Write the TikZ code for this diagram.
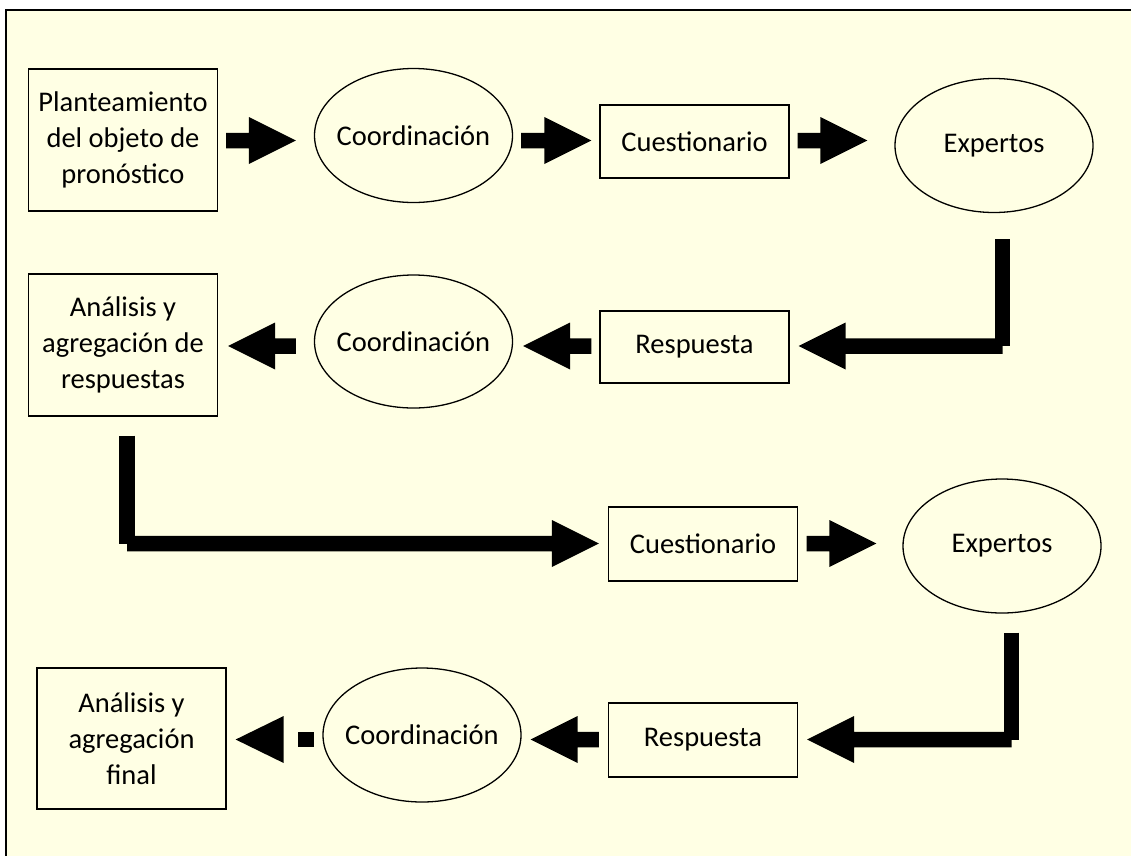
\documentclass[tikz,border=0pt]{standalone}
\usepackage{fontspec}
\setmainfont{Carlito}
\usetikzlibrary{shapes.geometric,calc}
\definecolor{paper}{RGB}{255,255,228}
\begin{document}
\begin{tikzpicture}[x=1pt,y=-1pt,
  lbl/.style={font=\fontsize{28.5}{36}\selectfont,text=black},
  box/.style={lbl,rectangle,draw=black,line width=1.3pt,inner sep=0pt,align=center,minimum width=189pt},
  oval/.style={lbl,ellipse,draw=black,line width=1.3pt,inner sep=0pt,minimum width=198pt,minimum height=134pt},
  shaft/.style={draw=black,line width=15.5pt},
  % horizontal block arrow: shaft 15.5pt thick, head 47pt long and 47pt wide
  blockarrow/.style={fill=black,to path={
    let \p1=(\tikztostart), \p2=(\tikztotarget),
        \p3=($(\tikztotarget)!47pt!(\tikztostart)$) in
    (\x1,\y1+7.75pt) -- (\x3,\y1+7.75pt) -- (\x3,\y1+23.5pt) -- (\x2,\y2)
    -- (\x3,\y1-23.5pt) -- (\x3,\y1-7.75pt) -- (\x1,\y1-7.75pt) -- cycle}},
]
\useasboundingbox (0,0) rectangle (1131,855);
\clip (0,0) rectangle (1131,855);
\fill[white] (0,0) rectangle (1131,855);
\draw[fill=paper,line width=1.5pt] (6,10) rectangle (1150,870);

% row axes
\coordinate (r1) at (0,140.5);
\coordinate (r2) at (0,346);
\coordinate (r3) at (0,543.5);
\coordinate (r4) at (0,739.5);

% first round
\node[box,minimum height=142pt] (plan) at (123,140) {Planteamiento\\del objeto de\\pronóstico};
\node[oval] (coordA) at (413.5,135.5) {\makebox[0pt]{Coordinación}};
\node[box,minimum height=73pt] (cuestA) at (694.5,141.5) {Cuestionario};
\node[oval] (expA) at (994,145.5) {\makebox[0pt]{Expertos}};

\node[box,minimum height=142pt] (anaA) at (123,345) {Análisis y\\agregación de\\respuestas};
\node[oval,minimum height=133pt] (coordB) at (413.5,341.5) {\makebox[0pt]{Coordinación}};
\node[box,minimum height=72pt] (respA) at (694.5,347) {Respuesta};

% second round
\node[box,minimum height=74pt] (cuestB) at (703,544) {Cuestionario};
\node[oval] (expB) at (1002,546) {\makebox[0pt]{Expertos}};

\node[box,minimum height=141pt] (anaB) at (131.5,738.5) {Análisis y\\agregación\\final};
\node[oval] (coordC) at (422,735) {\makebox[0pt]{Coordinación}};
\node[box,minimum height=74pt] (respB) at (703,740) {Respuesta};

% connectors, row 1
\path[blockarrow] ($(plan.east |- r1)+(8,0)$) to ($(coordA.west |- r1)+(-18,0)$);
\path[blockarrow] ($(coordA.east |- r1)+(8,0)$) to ($(cuestA.west |- r1)+(-8,0)$);
\path[blockarrow] ($(cuestA.east |- r1)+(8,0)$) to ($(expA.west |- r1)+(-27,0)$);

% expertos -> respuesta (bent)
\coordinate (kneeA) at ($(expA.center |- r2)+(8.5,0)$);
\draw[shaft] ($(expA.south)+(8.5,26)$) -- (kneeA);
\path[blockarrow] (kneeA) to ($(respA.east |- r2)+(9,0)$);

% connectors, row 2
\path[blockarrow] ($(respA.west |- r2)+(-8,0)$) to ($(coordB.east |- r2)+(10,0)$);
\path[blockarrow] ($(coordB.west |- r2)+(-18,0)$) to ($(anaA.east |- r2)+(10,0)$);

% analisis -> cuestionario (bent)
\coordinate (kneeB) at ($(anaA.center |- r3)+(4,0)$);
\draw[shaft] ($(anaA.south)+(4,19)$) -- (kneeB);
\path[blockarrow] (kneeB) to ($(cuestB.west |- r3)+(-9,0)$);

% connectors, row 3
\path[blockarrow] ($(cuestB.east |- r3)+(8.5,0)$) to ($(expB.west |- r3)+(-26,0)$);

% expertos -> respuesta (bent)
\coordinate (kneeC) at ($(expB.center |- r4)+(9.5,0)$);
\draw[shaft] ($(expB.south)+(9.5,19)$) -- (kneeC);
\path[blockarrow] (kneeC) to ($(respB.east |- r4)+(9,0)$);

% connectors, row 4
\path[blockarrow] ($(respB.west |- r4)+(-9,0)$) to ($(coordC.east |- r4)+(9,0)$);
\fill[black] ($(coordC.west |- r4)+(-24,-7.75)$) rectangle ($(coordC.west |- r4)+(-8,7.75)$);
\fill[black] ($(anaB.east |- r4)+(57,-23.5)$) -- ($(anaB.east |- r4)+(57,23.5)$) -- ($(anaB.east |- r4)+(9,0)$) -- cycle;
\end{tikzpicture}
\end{document}
